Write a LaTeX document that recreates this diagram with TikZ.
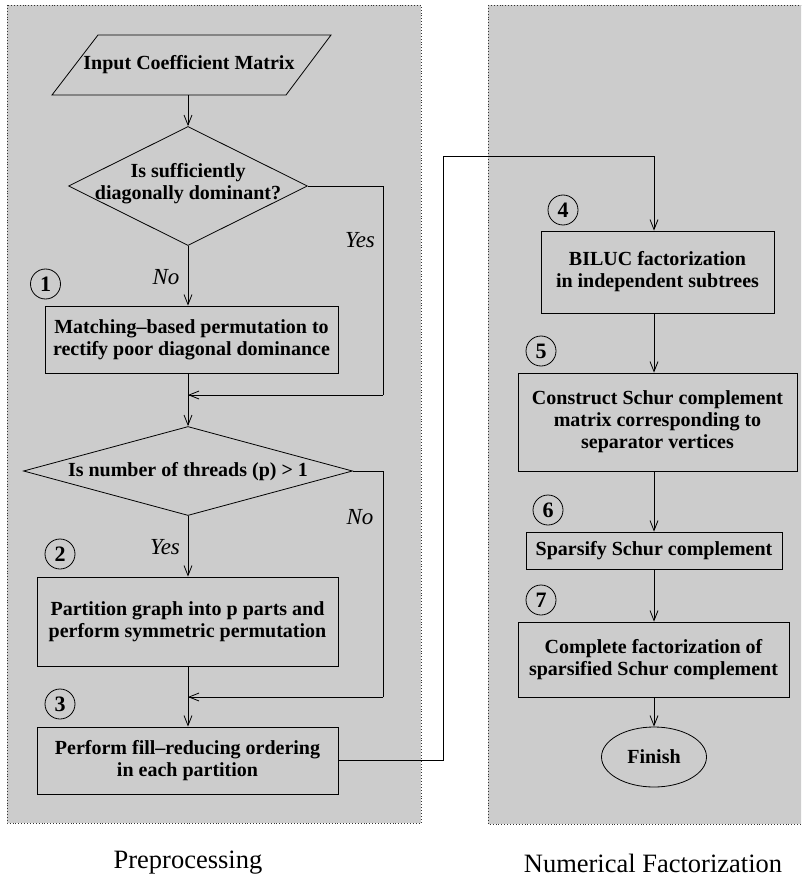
\documentclass[tikz,border=0pt]{standalone}
\usepackage{fontspec}
\setmainfont{Liberation Serif}
\usetikzlibrary{shapes.geometric,arrows.meta}
\definecolor{panelgray}{RGB}{204,204,204}
\tikzset{
  panel/.style={draw=black!80, fill=panelgray, dotted, line width=0.9pt},
  stepbox/.style={draw, line width=0.8pt, inner sep=0pt, align=center,
    font=\bfseries\fontsize{20}{22}\selectfont},
  dia/.style={draw, diamond, line width=0.8pt, inner sep=0pt},
  txt/.style={align=center, inner sep=0pt, font=\bfseries\fontsize{20}{22}\selectfont},
  num/.style={draw, circle, line width=0.8pt, minimum size=30pt, inner sep=0pt,
    font=\bfseries\fontsize{22}{24}\selectfont},
  lbl/.style={inner sep=0pt, font=\itshape\fontsize{23}{26}\selectfont},
  captext/.style={inner sep=0pt, font=\fontsize{26.5}{30}\selectfont},
  conn/.style={line width=0.8pt},
  arr/.style={conn, -{Straight Barb[length=10pt,width=8pt,line width=0.8pt]}},
}
\begin{document}
\begin{tikzpicture}[x=1pt,y=-1pt]
\useasboundingbox (0,0) rectangle (801,877);
\clip (0,0) rectangle (801,877);
% panels
\path[panel] (7,5) rectangle (421,823);
\path[panel] (488,5) rectangle (812,824);

% ---- left column ----
\draw[line width=0.8pt] (52,95) -- (98,35) -- (331,35) -- (286,95) -- cycle;
\node[txt, minimum height=60pt] (input) at (189,65) {Input Coefficient Matrix};

\node[dia, minimum width=239pt, minimum height=119pt] (d1) at (188,186) {};
\node[txt] (d1t) at (188,184) {Is sufficiently\\diagonally dominant?};

\node[stepbox, minimum width=293pt, minimum height=67pt] (b1) at (191.5,339.5)
  {Matching--based permutation to\\rectify poor diagonal dominance};

\node[dia, minimum width=329pt, minimum height=89pt] (d2) at (188,471) {};
\node[txt] (d2t) at (188,472) {Is number of threads (p) > 1};

\node[stepbox, minimum width=301pt, minimum height=89pt] (b2) at (187.5,621.5)
  {Partition graph into p parts and\\perform symmetric permutation};

\node[stepbox, minimum width=301pt, minimum height=67pt] (b3) at (187.5,760.5)
  {Perform fill--reducing ordering\\in each partition};

\node[num] (n1) at (45.5,284) {1};
\node[num] (n2) at (60,554) {2};
\node[num] (n3) at (60,704) {3};

\coordinate (j1) at (188,395);
\coordinate (j2) at (188,697);
\coordinate (r1) at (383,186);
\coordinate (r2) at (383,471);

\draw[arr] (d1.north |- input.south) -- (d1.north);
\draw[arr] (d1.south) -- (d1.south |- b1.north);
\draw[conn] (d1.east) -- (r1) -- (r1 |- j1);
\draw[arr] (r1 |- j1) -- (j1);
\draw[arr] (j1 |- b1.south) -- (d2.north);
\draw[arr] (d2.south) -- (d2.south |- b2.north);
\draw[conn] (d2.east) -- (r2) -- (r2 |- j2);
\draw[arr] (r2 |- j2) -- (j2);
\draw[arr] (j2 |- b2.south) -- (j2 |- b3.north);

\node[lbl] (no1) at (166,277) {No};
\node[lbl] (yes1) at (360,240) {Yes};
\node[lbl] (no2) at (360,517) {No};
\node[lbl] (yes2) at (165,547) {Yes};

% ---- right column ----
\node[stepbox, minimum width=233pt, minimum height=82pt] (b4) at (657.5,272)
  {BILUC factorization\\in independent subtrees};
\node[stepbox, minimum width=279pt, minimum height=98pt] (b5) at (657.5,422)
  {Construct Schur complement\\matrix corresponding to\\separator vertices};
\node[stepbox, minimum width=256pt, minimum height=37pt] (b6) at (654,550.5)
  {Sparsify Schur complement};
\node[stepbox, minimum width=271pt, minimum height=75pt] (b7) at (653.5,659.5)
  {Complete factorization of\\sparsified Schur complement};
\node[draw, ellipse, line width=0.8pt, minimum width=105pt, minimum height=60pt,
  inner sep=0pt, font=\bfseries\fontsize{20}{22}\selectfont] (fin) at (654,757) {Finish};

\node[num] (n4) at (563,210) {4};
\node[num] (n5) at (541,351) {5};
\node[num] (n6) at (548,510) {6};
\node[num] (n7) at (541,600) {7};

\coordinate (ax) at (654,156);
\coordinate (cx) at (443,156);

\draw[arr] (b3.east) -- (cx |- b3.east) -- (cx) -- (ax) -- (ax |- b4.north);
\draw[arr] (ax |- b4.south) -- (ax |- b5.north);
\draw[arr] (ax |- b5.south) -- (ax |- b6.north);
\draw[arr] (ax |- b6.south) -- (ax |- b7.north);
\draw[arr] (ax |- b7.south) -- (fin.north);

% captions
\node[captext] (c1) at (188,863) {Preprocessing};
\node[captext] (c2) at (653,863) {Numerical Factorization};
\end{tikzpicture}
\end{document}
